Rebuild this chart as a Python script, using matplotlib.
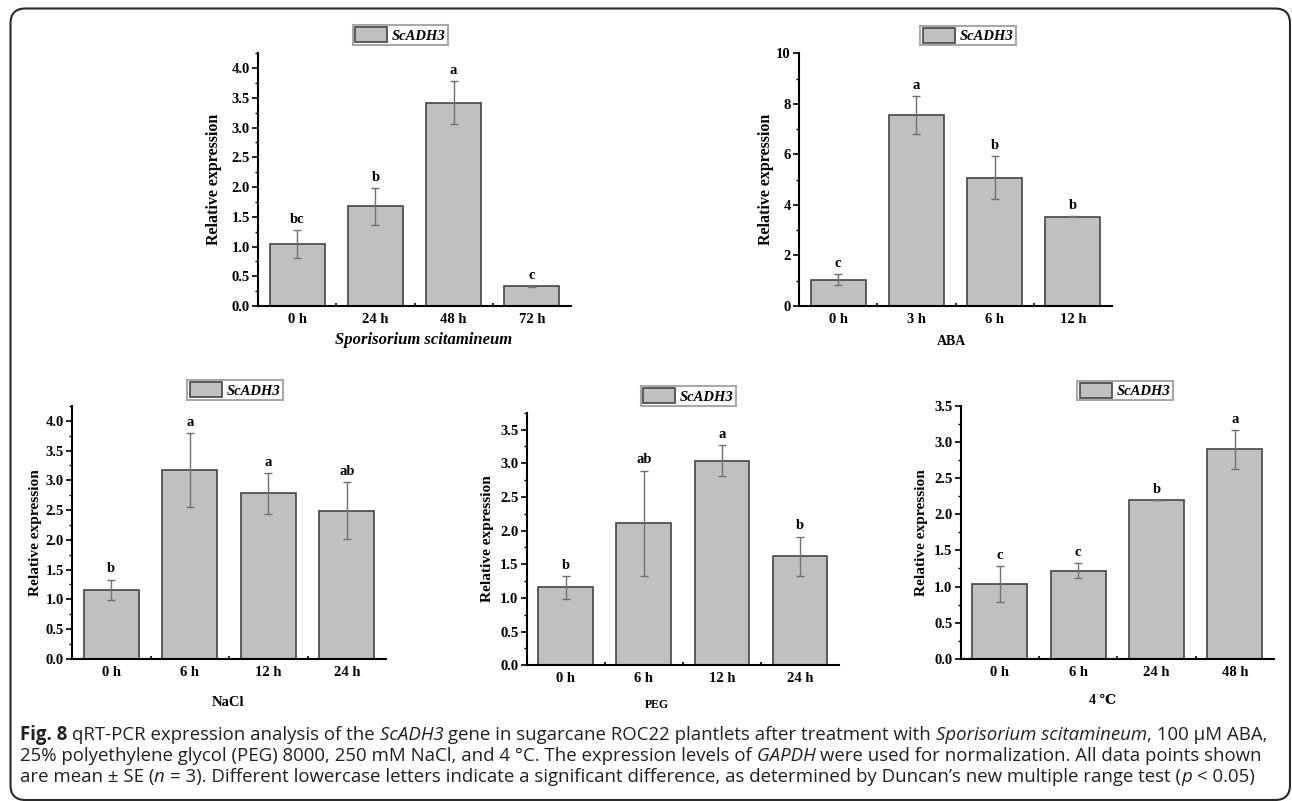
import numpy as np
import matplotlib
matplotlib.use('Agg')
import matplotlib.pyplot as plt
from matplotlib.patches import FancyBboxPatch, Patch
from matplotlib.transforms import IdentityTransform
from matplotlib.ticker import MultipleLocator, FixedLocator, FormatStrFormatter

# data (mean +- SE)
ss_times = ['0 h', '24 h', '48 h', '72 h']
ss_mean = [1.04, 1.68, 3.42, 0.33]
ss_se = [0.24, 0.31, 0.36, 0.005]
ss_letters = ['bc', 'b', 'a', 'c']

aba_times = ['0 h', '3 h', '6 h', '12 h']
aba_mean = [1.04, 7.55, 5.07, 3.53]
aba_se = [0.21, 0.76, 0.85, 0.02]
aba_letters = ['c', 'a', 'b', 'b']

nacl_times = ['0 h', '6 h', '12 h', '24 h']
nacl_mean = [1.16, 3.17, 2.78, 2.49]
nacl_se = [0.17, 0.62, 0.34, 0.48]
nacl_letters = ['b', 'a', 'a', 'ab']

peg_times = ['0 h', '6 h', '12 h', '24 h']
peg_mean = [1.16, 2.11, 3.04, 1.62]
peg_se = [0.17, 0.78, 0.235, 0.29]
peg_letters = ['b', 'ab', 'a', 'b']

cold_times = ['0 h', '6 h', '24 h', '48 h']
cold_mean = [1.03, 1.22, 2.20, 2.90]
cold_se = [0.25, 0.10, 0.0, 0.27]
cold_letters = ['c', 'c', 'b', 'a']

W, H = 1292, 801
SERIF = ['Liberation Serif', 'DejaVu Serif']
plt.rcParams['font.family'] = SERIF
plt.rcParams['font.weight'] = 'bold'

fig = plt.figure(figsize=(W / 100, H / 100), dpi=100)


def px_axes(l, t, r, b):
    return fig.add_axes([l / W, 1 - b / H, (r - l) / W, (b - t) / H])


# layout in pixels: box(l,t,r,b), ylim, y step, fmt, ylabel x, xlabel (x,y), label size/style, legend centre
panels = [
    (ss_times, ss_mean, ss_se, ss_letters, (258, 53.3, 571, 306), 4.25, 0.5, '%.1f', 214,
     'Sporisorium scitamineum', (424, 340), 12, 'italic', (400.5, 35), 11.5),
    (aba_times, aba_mean, aba_se, aba_letters, (799, 53.3, 1112, 306), 10, 2, '%d', 766,
     'ABA', (951.6, 341.7), 10, 'normal', (968, 35.5), 11.5),
    (nacl_times, nacl_mean, nacl_se, nacl_letters, (72, 406, 386, 658.7), 4.25, 0.5, '%.1f', 35,
     'NaCl', (228, 703), 10.5, 'normal', (235, 390), 11.1),
    (peg_times, peg_mean, peg_se, peg_letters, (526.7, 412.7, 839, 665.3), 3.75, 0.5, '%.1f', 487,
     'PEG', (657, 705), 8.5, 'normal', (688.5, 396), 11.1),
    (cold_times, cold_mean, cold_se, cold_letters, (960.7, 406, 1274, 658.7), 3.5, 0.5, '%.1f', 921.7,
     '4 \u2103', (1103, 700), 10, 'normal', (1125, 390.5), 11.1),
]

BAR = '#c0c0c0'
EDGE = '#454545'

for times, mean, se, letters, box, ytop, step, fmt, ylx, xlab, xlpos, xlsize, xlstyle, legc, ysize in panels:
    l, t, r, b = box
    ax = px_axes(l, t, r, b)
    x = np.arange(len(times))
    ax.bar(x, mean, width=0.7, color=BAR, edgecolor=EDGE, linewidth=1.2, zorder=2)
    ax.errorbar(x, mean, yerr=se, fmt='none', ecolor='#707070', elinewidth=1,
                capsize=3, capthick=1, zorder=3)
    for xi, m, s, lt in zip(x, mean, se, letters):
        ax.annotate(lt, (xi, m + s), xytext=(0, 3), textcoords='offset points',
                    ha='center', va='bottom', fontsize=10.5, fontweight='bold')
    ax.set_xlim(-0.5, 3.5)
    ax.set_ylim(0, ytop)
    ax.set_xticks(x, times)
    ax.tick_params(axis='x', which='major', length=0, pad=5, labelsize=10.5)
    ax.xaxis.set_minor_locator(FixedLocator([0.5, 1.5, 2.5]))
    ax.tick_params(axis='x', which='minor', direction='in', length=2.5, width=1.2)
    ax.yaxis.set_major_locator(MultipleLocator(step))
    ax.yaxis.set_minor_locator(MultipleLocator(step / 2))
    ax.yaxis.set_major_formatter(FormatStrFormatter(fmt))
    ax.tick_params(axis='y', which='major', length=4, width=1.2, labelsize=10.5, pad=2)
    ax.tick_params(axis='y', which='minor', length=2, width=1)
    for sp in ['top', 'right']:
        ax.spines[sp].set_visible(False)
    for sp in ['left', 'bottom']:
        ax.spines[sp].set_linewidth(1.5)

    ax.set_ylabel('Relative expression', fontsize=ysize, fontweight='bold')
    ax.yaxis.label.set_va('center')
    ax.yaxis.set_label_coords((ylx - l) / (r - l), 0.5)
    ax.set_xlabel(xlab, fontsize=xlsize, fontweight='bold', style=xlstyle)
    ax.xaxis.label.set_va('center')
    ax.xaxis.set_label_coords((xlpos[0] - l) / (r - l), -(xlpos[1] - b) / (b - t))

    h = [Patch(facecolor=BAR, edgecolor=EDGE, linewidth=1.2, label='ScADH3')]
    leg = ax.legend(handles=h, loc='center', bbox_to_anchor=(legc[0] / W, 1 - legc[1] / H),
                    bbox_transform=fig.transFigure,
                    prop=dict(family=SERIF, style='italic', weight='bold', size=10.5),
                    fancybox=False, edgecolor='#a8a8a8', framealpha=1,
                    handlelength=2.2, handleheight=1.2, handletextpad=0.35,
                    borderpad=0.15, borderaxespad=0)
    leg.get_frame().set_linewidth(1.5)

# rounded frame round the whole figure
frame = FancyBboxPatch((10.5, 1), 1279.5, 791.5, boxstyle='round,pad=0,rounding_size=15',
                       transform=IdentityTransform(), fill=False, edgecolor='#2a2a2a', linewidth=1.5)
fig.add_artist(frame)

# caption, mixed styles laid out piece by piece
CAP = 'Open Sans'
CAPCOL = '#231f20'
cap_lines = [
    [('Fig. 8 ', 'normal', 'bold'),
     ('qRT-PCR expression analysis of the ', 'normal', 'normal'),
     ('ScADH3 ', 'italic', 'normal'),
     ('gene in sugarcane ROC22 plantlets after treatment with ', 'normal', 'normal'),
     ('Sporisorium scitamineum', 'italic', 'normal'),
     (', 100 \u00b5M ABA,', 'normal', 'normal')],
    [('25% polyethylene glycol (PEG) 8000, 250 mM NaCl, and 4 \u00b0C. The expression levels of ', 'normal', 'normal'),
     ('GAPDH ', 'italic', 'normal'),
     ('were used for normalization. All data points shown', 'normal', 'normal')],
    [('are mean \u00b1 SE (', 'normal', 'normal'),
     ('n ', 'italic', 'normal'),
     ('= 3). Different lowercase letters indicate a significant difference, as determined by Duncan\u2019s new multiple range test (', 'normal', 'normal'),
     ('p ', 'italic', 'normal'),
     ('< 0.05)', 'normal', 'normal')],
]
cap_base = [740, 761, 782]

renderer = fig.canvas.get_renderer()


def piece_w(txt, size, style, weight):
    a = fig.text(0, 0, txt + '|', fontsize=size, style=style, weight=weight, family=CAP)
    c = fig.text(0, 0, '|', fontsize=size, style=style, weight=weight, family=CAP)
    w = a.get_window_extent(renderer).width - c.get_window_extent(renderer).width
    a.remove()
    c.remove()
    return w


w0 = sum(piece_w(p[0], 10, p[1], p[2]) for p in cap_lines[0])
cap_size = 10 * 1248 / w0

for line, yb in zip(cap_lines, cap_base):
    xx = 20
    for txt, style, weight in line:
        fig.text(xx / W, 1 - yb / H, txt, fontsize=cap_size, style=style, weight=weight,
                 family=CAP, color=CAPCOL, ha='left', va='baseline')
        xx += piece_w(txt, cap_size, style, weight)

fig.savefig('out.png', dpi=100)
